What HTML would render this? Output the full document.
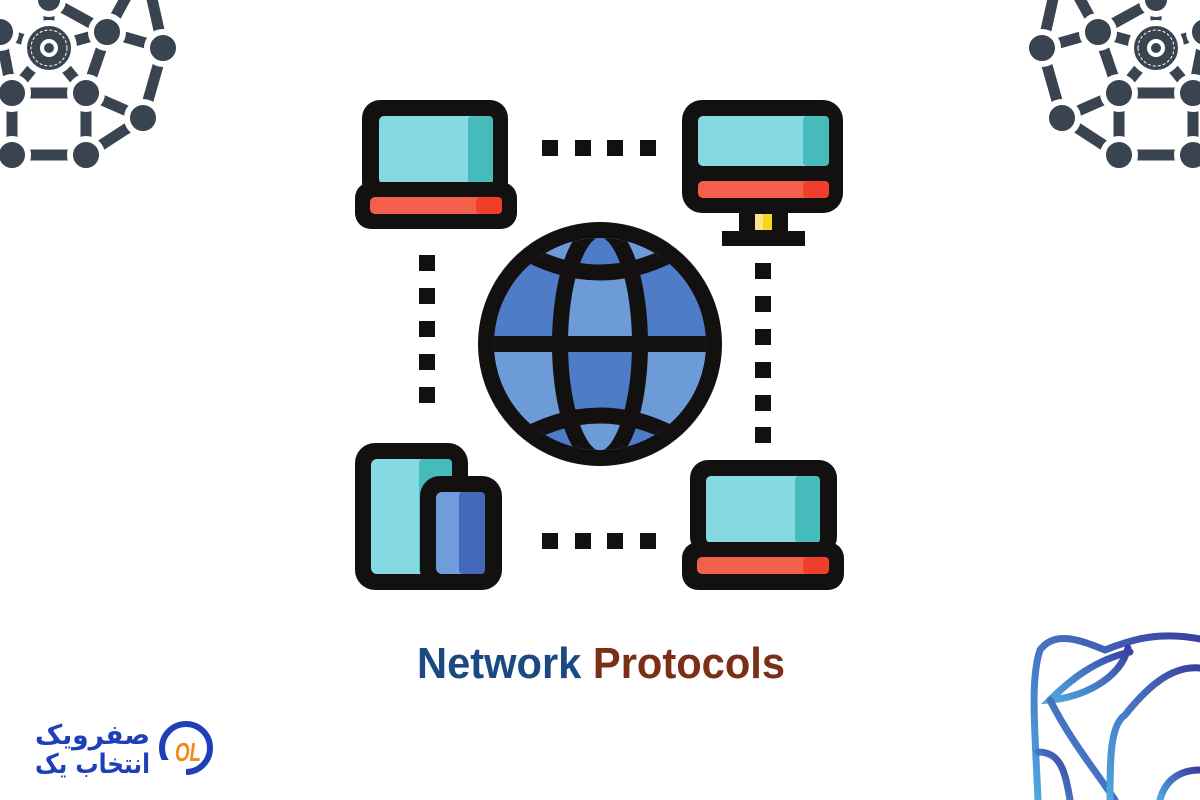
<!DOCTYPE html>
<html><head><meta charset="utf-8"><style>
html,body{margin:0;padding:0;background:#fff;width:1200px;height:800px;overflow:hidden}
</style></head><body>
<svg width="1200" height="800" viewBox="0 0 1200 800" xmlns="http://www.w3.org/2000/svg">
<defs>
<g id="net">
 <g stroke="#3a4350" stroke-width="11" fill="none">
  <line x1="49" y1="0" x2="49" y2="48"/>
  <line x1="0" y1="32" x2="49" y2="48"/>
  <line x1="107" y1="32" x2="49" y2="48"/>
  <line x1="49" y1="0" x2="107" y2="32"/>
  <line x1="107" y1="32" x2="163" y2="48"/>
  <line x1="107" y1="32" x2="86" y2="93"/>
  <line x1="130" y1="-10" x2="107" y2="32"/>
  <line x1="150" y1="-10" x2="163" y2="48"/>
  <line x1="163" y1="48" x2="143" y2="118"/>
  <line x1="12" y1="93" x2="49" y2="48"/>
  <line x1="86" y1="93" x2="49" y2="48"/>
  <line x1="12" y1="93" x2="86" y2="93"/>
  <line x1="86" y1="93" x2="143" y2="118"/>
  <line x1="12" y1="93" x2="12" y2="155"/>
  <line x1="86" y1="93" x2="86" y2="155"/>
  <line x1="12" y1="155" x2="86" y2="155"/>
  <line x1="86" y1="155" x2="143" y2="118"/>
  <line x1="0" y1="32" x2="12" y2="93"/>
 </g>
 <g fill="#3a4350" stroke="#fff" stroke-width="6">
  <circle cx="107" cy="32" r="16"/>
  <circle cx="163" cy="48" r="16"/>
  <circle cx="0" cy="32" r="16"/>
  <circle cx="49" cy="0" r="14"/>
  <circle cx="12" cy="93" r="16"/>
  <circle cx="86" cy="93" r="16"/>
  <circle cx="143" cy="118" r="16"/>
  <circle cx="12" cy="155" r="16"/>
  <circle cx="86" cy="155" r="16"/>
  <circle cx="49" cy="48" r="25"/>
 </g>
 <circle cx="49" cy="48" r="18" fill="none" stroke="#fff" stroke-width="1" stroke-dasharray="3 2"/>
 <circle cx="49" cy="48" r="9" fill="#fff"/>
 <circle cx="49" cy="48" r="5" fill="#3a4350"/>
</g>
<linearGradient id="bg" x1="0" y1="1" x2="1" y2="0">
 <stop offset="0" stop-color="#4fa7e0"/><stop offset="1" stop-color="#3a3ea0"/>
</linearGradient>
<clipPath id="gc"><circle cx="600" cy="344" r="106"/></clipPath>
<clipPath id="mer"><ellipse cx="600" cy="344" rx="40" ry="115"/></clipPath>
</defs>

<use href="#net"/>
<use href="#net" transform="translate(1205,0) scale(-1,1)"/>

<!-- bottom right decoration -->
<g fill="none" stroke="url(#bg)" stroke-width="7" stroke-linecap="round">
 <path d="M1205 640 C1160 630 1130 640 1105 650 C1080 640 1055 630 1040 650 C1030 680 1035 730 1038 800"/>
 <path d="M1130 652 C1095 660 1070 680 1050 700 C1080 698 1120 680 1128 648"/>
 <path d="M1050 700 C1070 740 1095 770 1115 800"/>
 <path d="M1200 668 C1170 665 1145 690 1125 715 C1110 725 1110 760 1110 800"/>
 <path d="M1038 752 C1060 752 1065 770 1070 800"/>
 <path d="M1160 800 C1165 780 1180 770 1200 770"/>
</g>

<!-- connectors -->
<g fill="#111">
 <rect x="542" y="140" width="16" height="16"/><rect x="575" y="140" width="16" height="16"/>
 <rect x="607" y="140" width="16" height="16"/><rect x="640" y="140" width="16" height="16"/>
 <rect x="542" y="533" width="16" height="16"/><rect x="575" y="533" width="16" height="16"/>
 <rect x="607" y="533" width="16" height="16"/><rect x="640" y="533" width="16" height="16"/>
 <rect x="419" y="255" width="16" height="16"/><rect x="419" y="288" width="16" height="16"/>
 <rect x="419" y="321" width="16" height="16"/><rect x="419" y="354" width="16" height="16"/>
 <rect x="419" y="387" width="16" height="16"/>
 <rect x="755" y="263" width="16" height="16"/><rect x="755" y="296" width="16" height="16"/>
 <rect x="755" y="329" width="16" height="16"/><rect x="755" y="362" width="16" height="16"/>
 <rect x="755" y="395" width="16" height="16"/><rect x="755" y="427" width="16" height="16"/>
</g>

<!-- top-left laptop -->
<rect x="362" y="100" width="146" height="100" rx="18" fill="#121110"/>
<rect x="379" y="116" width="114" height="68" rx="5" fill="#86d8e3"/>
<rect x="468" y="116" width="25" height="68" rx="4" fill="#45bcbb"/>
<rect x="355" y="182" width="162" height="47" rx="16" fill="#121110"/>
<rect x="370" y="197" width="132" height="17" rx="5" fill="#f2604c"/>
<rect x="476" y="197" width="26" height="17" rx="4" fill="#ef3e2a"/>

<!-- top-right monitor -->
<rect x="739" y="205" width="49" height="30" fill="#121110"/>
<rect x="722" y="231" width="83" height="15" fill="#121110"/>
<rect x="755" y="214" width="17" height="16" fill="#f8d515"/>
<rect x="755" y="214" width="8" height="16" fill="#fce28a"/>
<rect x="682" y="100" width="161" height="113" rx="20" fill="#121110"/>
<rect x="698" y="116" width="131" height="50" rx="5" fill="#86d8e3"/>
<rect x="803" y="116" width="26" height="50" rx="4" fill="#45bcbb"/>
<rect x="698" y="181" width="131" height="17" rx="5" fill="#f2604c"/>
<rect x="803" y="181" width="26" height="17" rx="4" fill="#ef3e2a"/>

<!-- globe -->
<circle cx="600" cy="344" r="122" fill="#121110"/>
<g clip-path="url(#gc)">
 <rect x="470" y="220" width="260" height="124" fill="#4f7cc7"/>
 <rect x="470" y="344" width="260" height="130" fill="#6d9bd8"/>
 <g clip-path="url(#mer)">
  <rect x="470" y="220" width="260" height="124" fill="#6d9bd8"/>
  <rect x="470" y="344" width="260" height="130" fill="#4f7cc7"/>
 </g>
 <path d="M460 210 H740 V240 L695 240 Q600 305 505 240 L460 240 Z" fill="#6d9bd8"/>
 <path d="M460 478 H740 V448 L695 448 Q600 383 505 448 L460 448 Z" fill="#4f7cc7"/>
 <g clip-path="url(#mer)">
  <path d="M460 210 H740 V240 L695 240 Q600 305 505 240 L460 240 Z" fill="#4f7cc7"/>
  <path d="M460 478 H740 V448 L695 448 Q600 383 505 448 L460 448 Z" fill="#6d9bd8"/>
 </g>
 <g fill="none" stroke="#121110" stroke-width="16">
  <ellipse cx="600" cy="344" rx="40" ry="115"/>
  <line x1="470" y1="344" x2="730" y2="344"/>
  <path d="M505 240 Q600 305 695 240"/>
  <path d="M505 448 Q600 383 695 448"/>
 </g>
</g>

<!-- tablet + phone -->
<rect x="355" y="443" width="113" height="147" rx="20" fill="#121110"/>
<rect x="371" y="459" width="81" height="115" rx="6" fill="#86d8e3"/>
<rect x="419" y="459" width="33" height="115" rx="4" fill="#45bcbb"/>
<rect x="420" y="476" width="82" height="114" rx="20" fill="#121110"/>
<rect x="436" y="492" width="49" height="82" rx="6" fill="#6f9cdb"/>
<rect x="459" y="492" width="26" height="82" rx="4" fill="#4368ba"/>

<!-- bottom-right laptop -->
<rect x="690" y="460" width="147" height="95" rx="18" fill="#121110"/>
<rect x="706" y="476" width="114" height="67" rx="5" fill="#86d8e3"/>
<rect x="795" y="476" width="25" height="67" rx="4" fill="#45bcbb"/>
<rect x="682" y="542" width="162" height="48" rx="16" fill="#121110"/>
<rect x="697" y="557" width="132" height="17" rx="5" fill="#f2604c"/>
<rect x="803" y="557" width="26" height="17" rx="4" fill="#ef3e2a"/>

<!-- title -->
<text x="417" y="678" font-family="Liberation Sans, sans-serif" font-weight="bold" font-size="44" textLength="368" lengthAdjust="spacingAndGlyphs"><tspan fill="#1b4a80">Network</tspan> <tspan fill="#7b2f17">Protocols</tspan></text>

<!-- logo -->
<circle cx="186" cy="748" r="24" fill="none" stroke="#1f3fb8" stroke-width="6"/>
<rect x="150" y="760" width="36" height="16" fill="#fff"/>
<text x="188" y="761" text-anchor="middle" font-family="Liberation Sans, sans-serif" font-weight="bold" font-style="italic" font-size="26" fill="#f08a1d" textLength="26" lengthAdjust="spacingAndGlyphs">OL</text>
<text x="150" y="744" text-anchor="end" font-family="DejaVu Sans, sans-serif" font-weight="bold" font-size="27" fill="#1f3fb8" textLength="115" lengthAdjust="spacingAndGlyphs">صفرویک</text>
<text x="150" y="773" text-anchor="end" font-family="DejaVu Sans, sans-serif" font-weight="bold" font-size="27" fill="#1f3fb8" textLength="115" lengthAdjust="spacingAndGlyphs">انتخاب یک</text>
</svg>
</body></html>
